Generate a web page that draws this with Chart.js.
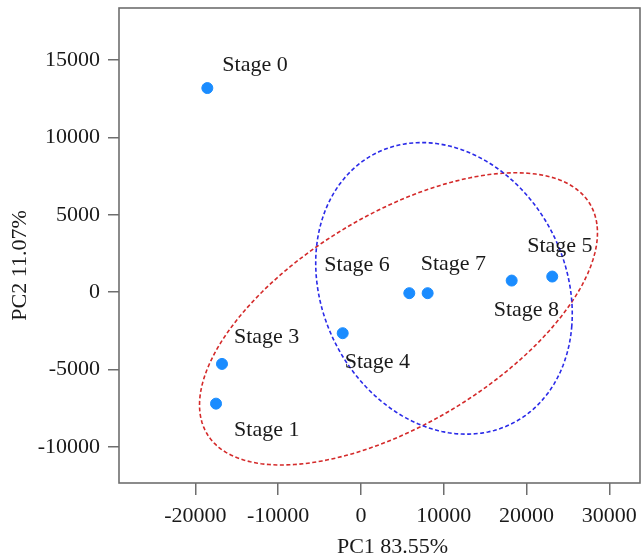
<!DOCTYPE html>
<html>
<head>
<meta charset="utf-8">
<script src="https://cdn.jsdelivr.net/npm/chart.js@4/dist/chart.umd.min.js"></script>
<style>
  html, body { margin: 0; padding: 0; background: #ffffff; }
  #wrap { width: 643px; height: 559px; }
</style>
</head>
<body>
<div id="wrap"><canvas id="c" width="643" height="559"></canvas></div>
<script>
// ---- data ----
const stageLabels = ["Stage 0", "Stage 1", "Stage 3", "Stage 4", "Stage 5", "Stage 6", "Stage 7", "Stage 8"];
const pc1Values   = [-18560, -17510, -16790, -2210, 23100, 5835, 8050, 18200];
const pc2Values   = [13195, -7205, -4638, -2652, 1010, -65, -65, 750];
const xTickValues = [-20000, -10000, 0, 10000, 20000, 30000];
const yTickValues = [-10000, -5000, 0, 5000, 10000, 15000];
const xAxisTitle  = "PC1 83.55%";
const yAxisTitle  = "PC2 11.07%";
// ellipses in data units: centre x, centre y, semi-major, semi-minor, angle (deg)
const redEllipse  = [4529, -1727, 24735, 7416, 14.35];
const blueEllipse = [10024, 246, 15628, 9201, -9.29];

// ---- layout / style (not data) ----
const labelOffsets = [[15, -23], [18, 27], [12, -27], [2, 29], [-25, -30], [-85, -28], [-7, -29], [-18, 30]];
const FONT = "'Liberation Serif', 'Times New Roman', serif";

const ellipsePlugin = {
  id: 'ellipses',
  afterDatasetsDraw(chart) {
    const ctx = chart.ctx, xs = chart.scales.x, ys = chart.scales.y;
    const draw = (e, color) => {
      const [cx, cy, a, b, deg] = e;
      const th = deg * Math.PI / 180;
      ctx.save();
      ctx.beginPath();
      const n = 240;
      for (let i = 0; i <= n; i++) {
        const t = 2 * Math.PI * i / n;
        const dx = a * Math.cos(t), dy = b * Math.sin(t);
        const vx = cx + dx * Math.cos(th) - dy * Math.sin(th);
        const vy = cy + dx * Math.sin(th) + dy * Math.cos(th);
        const px = xs.getPixelForValue(vx), py = ys.getPixelForValue(vy);
        if (i === 0) ctx.moveTo(px, py); else ctx.lineTo(px, py);
      }
      ctx.setLineDash([4, 2.5]);
      ctx.lineWidth = 1.6;
      ctx.strokeStyle = color;
      ctx.stroke();
      ctx.restore();
    };
    draw(redEllipse, '#d42a2a');
    draw(blueEllipse, '#2a2ae8');
  }
};

const labelPlugin = {
  id: 'labels',
  afterDatasetsDraw(chart) {
    const ctx = chart.ctx;
    const meta = chart.getDatasetMeta(0);
    ctx.save();
    ctx.font = "22px " + FONT;
    ctx.fillStyle = '#1a1a1a';
    ctx.textAlign = 'left';
    ctx.textBaseline = 'middle';
    meta.data.forEach((pt, i) => {
      const off = labelOffsets[i];
      ctx.fillText(stageLabels[i], pt.x + off[0], pt.y + off[1]);
    });
    ctx.restore();
  }
};

const framePlugin = {
  id: 'frame',
  afterDraw(chart) {
    const ctx = chart.ctx, ca = chart.chartArea;
    ctx.save();
    ctx.strokeStyle = '#6e6e6e';
    ctx.lineWidth = 1.6;
    ctx.strokeRect(ca.left, ca.top, ca.right - ca.left, ca.bottom - ca.top);
    ctx.font = "22px " + FONT;
    ctx.fillStyle = '#1a1a1a';
    ctx.textAlign = 'center';
    ctx.textBaseline = 'middle';
    ctx.fillText(xAxisTitle, ca.left + (ca.right - ca.left) * 0.525, 547);
    ctx.translate(20, ca.top + (ca.bottom - ca.top) * 0.542);
    ctx.rotate(-Math.PI / 2);
    ctx.fillText(yAxisTitle, 0, 0);
    ctx.restore();
  }
};

new Chart(document.getElementById('c'), {
  type: 'scatter',
  data: {
    datasets: [{
      data: pc1Values.map((x, i) => ({ x: x, y: pc2Values[i] })),
      backgroundColor: '#1a8cff',
      borderColor: '#1a8cff',
      pointRadius: 5.5,
      pointHoverRadius: 5.5
    }]
  },
  options: {
    responsive: false,
    animation: false,
    layout: { autoPadding: false, padding: { top: 8, right: 3, left: 0, bottom: 0 } },
    plugins: { legend: { display: false }, tooltip: { enabled: false } },
    scales: {
      x: {
        type: 'linear',
        min: -29230, max: 33700,
        afterBuildTicks: s => { s.ticks = xTickValues.map(v => ({ value: v })); },
        afterFit: s => { s.height = 76; s.paddingLeft = 0; s.paddingRight = 0; },
        grid: { drawOnChartArea: false, tickLength: 12, color: '#6e6e6e', lineWidth: 1.5 },
        border: { display: false },
        ticks: { color: '#1a1a1a', font: { family: FONT, size: 22 }, padding: 8, maxRotation: 0, autoSkip: false, callback: v => String(v) }
      },
      y: {
        type: 'linear',
        min: -12335, max: 18370,
        afterBuildTicks: s => { s.ticks = yTickValues.map(v => ({ value: v })); },
        afterFit: s => { s.width = 119; s.paddingTop = 0; s.paddingBottom = 0; },
        grid: { drawOnChartArea: false, tickLength: 11, color: '#6e6e6e', lineWidth: 1.5 },
        border: { display: false },
        ticks: { color: '#1a1a1a', font: { family: FONT, size: 22 }, padding: 8, autoSkip: false, callback: v => String(v) }
      }
    }
  },
  plugins: [ellipsePlugin, labelPlugin, framePlugin]
});
</script>
</body>
</html>
